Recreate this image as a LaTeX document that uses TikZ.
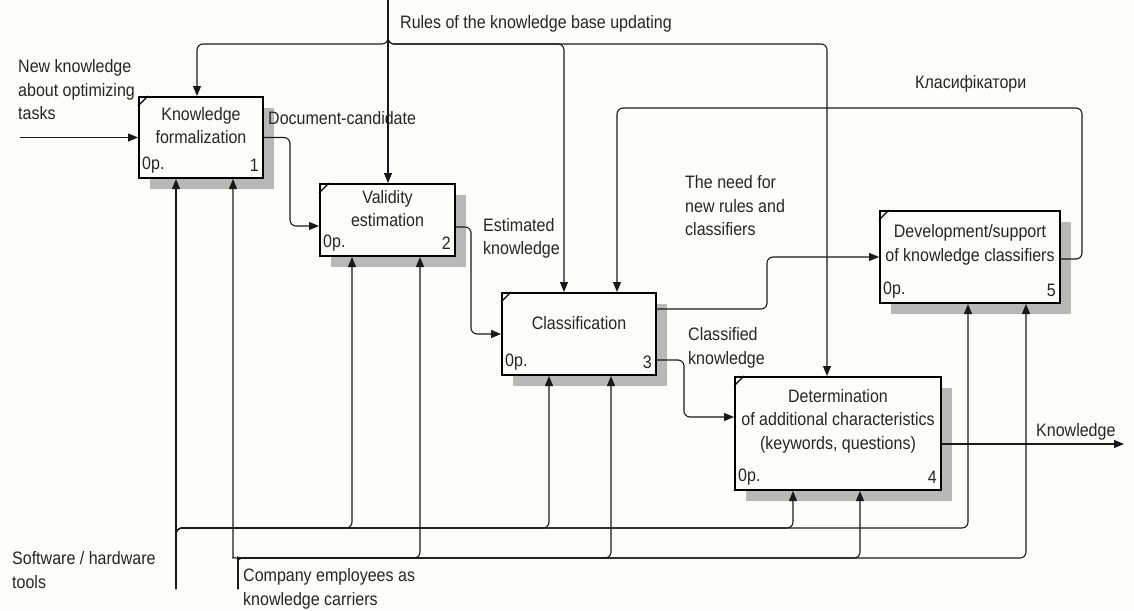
\documentclass[tikz,border=0pt]{standalone}
\usepackage{fontspec}
\setmainfont{Liberation Sans}[FakeStretch=0.89]
\usetikzlibrary{arrows.meta,calc,shadows}
\definecolor{bg}{RGB}{254,252,248}
\definecolor{shade}{RGB}{185,184,182}
\begin{document}
\begin{tikzpicture}[x=1pt,y=-1pt,
  every node/.style={font=\fontsize{18}{23.5}\selectfont, text=black!85, inner sep=0pt},
  act/.style={draw=black, line width=2pt, fill=bg, rectangle, inner sep=0pt,
    drop shadow={shadow xshift=11pt, shadow yshift=-11pt, fill=shade, opacity=1}},
  tick/.style={line width=1.3pt},
  conn/.style={draw=black!90, line width=1.1pt, rounded corners=6pt},
  arr/.style={conn, -{Triangle[length=10pt,width=8pt]}},
  lbl/.style={align=left, anchor=west},
  ttl/.style={align=center}]
\fill[bg] (0,0) rectangle (1134,610);
\useasboundingbox (0,0) rectangle (1134,610);

% activity boxes
\node[act, minimum width=124pt, minimum height=81pt] (b1) at (201,137.5) {};
\node[act, minimum width=135pt, minimum height=72pt] (b2) at (387.5,220) {};
\node[act, minimum width=154pt, minimum height=82pt] (b3) at (579,334) {};
\node[act, minimum width=206pt, minimum height=113pt] (b4) at (838,433.5) {};
\node[act, minimum width=180pt, minimum height=92pt] (b5) at (970,257) {};

\foreach \b in {b1,b2,b3,b4,b5}{
  \draw[tick] ($(\b.north west)+(0,10)$) -- ($(\b.north west)+(10,0)$);
  \node[anchor=west] (\b cost) at ($(\b.south west)+(4,-14)$) {0p.};
}
\node[anchor=east] (n1) at ($(b1.south east)+(-5,-14)$) {1};
\node[anchor=east] (n2) at ($(b2.south east)+(-5,-14)$) {2};
\node[anchor=east] (n3) at ($(b3.south east)+(-5,-14)$) {3};
\node[anchor=east] (n4) at ($(b4.south east)+(-5,-14)$) {4};
\node[anchor=east] (n5) at ($(b5.south east)+(-5,-14)$) {5};

\node[ttl] (t1) at (201,125.5) {Knowledge\\formalization};
\node[ttl] (t2) at (387.5,208.5) {Validity\\estimation};
\node[ttl] (t3) at (579,323) {Classification};
\node[ttl] (t4) at (838,421) {Determination\\of additional characteristics\\(keywords, questions)};
\node[ttl] (t5) at (970,245) {Development/support\\of knowledge classifiers};

% coordinates
\coordinate (in1) at (20,137.5);
\coordinate (rtop) at (388,0);
\coordinate (rj) at (388,34);
\coordinate (rb) at (388,44);
\coordinate (x197) at (197,0);
\coordinate (x564) at (564,0);
\coordinate (x827) at (827,0);
\coordinate (dc) at (290,226);
\coordinate (ek) at (471,334);
\coordinate (nd) at (767,257);
\coordinate (ck) at (684,417);
\coordinate (cl1) at (1082,108);
\coordinate (x617) at (617,0);
\coordinate (kout) at (1124,444);
\coordinate (sw) at (176,589);
\coordinate (s2) at (352,528);
\coordinate (s3) at (549,528);
\coordinate (s4) at (793,528);
\coordinate (s5) at (968,528);
\coordinate (em) at (238,589);
\coordinate (emj) at (238,564);
\coordinate (e1) at (233,552);
\coordinate (eh) at (246,558);
\coordinate (e2) at (420,558);
\coordinate (e3) at (611,558);
\coordinate (e4) at (860,558);
\coordinate (e5) at (1026,558);

% input
\draw[arr] (in1) -- (b1.west);
% controls: rules
\draw[arr] (rtop) -- (rtop |- b2.north);
\draw[arr] (rj) -- (rb) -| (x197 |- b1.north);
\draw[arr] (rj) -- (rb) -| (x564 |- b3.north);
\draw[arr] (rj) -- (rb) -| (x827 |- b4.north);
% outputs
\draw[arr] (b1.east) -| (dc) -- (b2.west |- dc);
\draw[arr] ($(b2.east)+(0,7)$) -| (ek) -- (b3.west);
\draw[arr] ($(b3.east)+(0,-25)$) -| (nd) -- (b5.west);
\draw[arr] ($(b3.east)+(0,26)$) -| (ck) -- (b4.west |- ck);
\draw[arr] ($(b5.east)+(0,2)$) -| (cl1) -| (x617 |- b3.north);
\draw[arr] (b4.east |- kout) -- (kout);
% mechanisms: software / hardware
\draw[arr] (sw) -- (sw |- b1.south);
\draw[arr] (sw) |- (s2) -- (s2 |- b2.south);
\draw[arr] (sw) |- (s3) -- (s3 |- b3.south);
\draw[arr] (sw) |- (s4) -- (s4 |- b4.south);
\draw[arr] (sw) |- (s5) -- (s5 |- b5.south);
% mechanisms: employees
\draw[arr] (em) -- (emj) to[out=90,in=-90] (e1) -- (e1 |- b1.south);
\draw[arr] (em) -- (emj) to[out=90,in=180] (eh) -| (e2 |- b2.south);
\draw[arr] (em) -- (emj) to[out=90,in=180] (eh) -| (e3 |- b3.south);
\draw[arr] (em) -- (emj) to[out=90,in=180] (eh) -| (e4 |- b4.south);
\draw[arr] (em) -- (emj) to[out=90,in=180] (eh) -| (e5 |- b5.south);

% labels
\node[lbl] (l1) at (18,90) {New knowledge\\about optimizing\\tasks};
\node[lbl] (l2) at (400,24) {Rules of the knowledge base updating};
\node[lbl] (l3) at (268,118) {Document-candidate};
\node[lbl] (l4) at (483,238.5) {Estimated\\knowledge};
\node[lbl] (l5) at (685,206) {The need for\\new rules and\\classifiers};
\node[lbl] (l6) at (688,348) {Classified\\knowledge};
\node[lbl] (l7) at (915,84) {Класифікатори};
\node[lbl] (l8) at (1036,432) {Knowledge};
\node[lbl] (l9) at (12,570) {Software / hardware\\tools};
\node[lbl] (l10) at (243,589) {Company employees as\\knowledge carriers};
\end{tikzpicture}
\end{document}
